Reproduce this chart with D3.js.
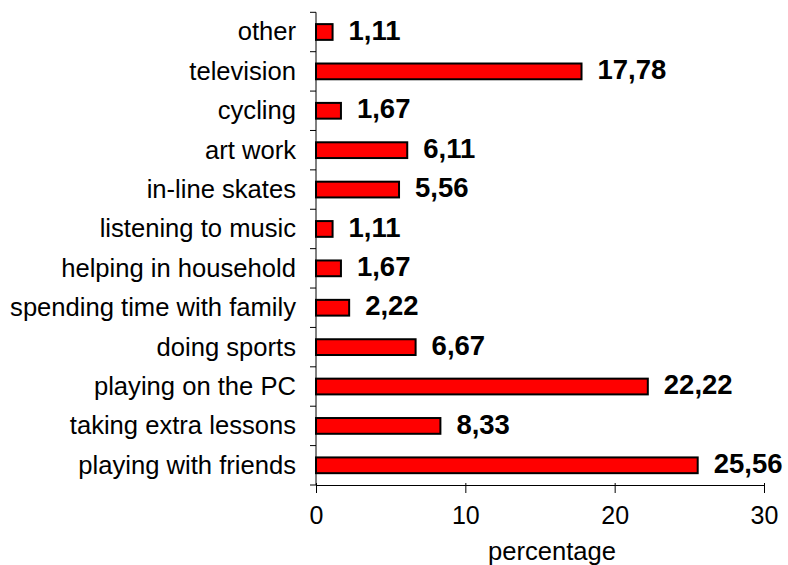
<!DOCTYPE html>
<meta charset="utf-8">
<html>
<head>
<script src="https://d3js.org/d3.v7.min.js"></script>
<style>
  body { margin: 0; background: #fff; }
  text { font-family: Arial, "Liberation Sans", sans-serif; }
</style>
</head>
<body>
<svg id="my_dataviz" width="788" height="565"></svg>
</body>
</html>
<script>

// categories from top to bottom
var activities = ["other", "television", "cycling", "art work", "in-line skates",
  "listening to music", "helping in household", "spending time with family",
  "doing sports", "playing on the PC", "taking extra lessons", "playing with friends"];
var percentages = [1.11, 17.78, 1.67, 6.11, 5.56, 1.11, 1.67, 2.22, 6.67, 22.22, 8.33, 25.56];
var valueLabels = ["1,11", "17,78", "1,67", "6,11", "5,56", "1,11", "1,67", "2,22", "6,67", "22,22", "8,33", "25,56"];
var xTicks = [0, 10, 20, 30];

var svg = d3.select("svg");
var plotLeft = 316, plotRight = 764, plotTop = 12.3, plotBottom = 485;

var x = d3.scaleLinear().domain([0, 30]).range([plotLeft, plotRight]);
var y = d3.scaleBand().domain(activities).range([plotTop, plotBottom]).paddingInner(0.6).paddingOuter(0.3);

// bars
svg.append("g")
  .selectAll("rect")
  .data(activities)
  .enter()
  .append("rect")
    .attr("x", x(0))
    .attr("y", function(d) { return y(d); })
    .attr("width", function(d, i) { return x(percentages[i]) - x(0); })
    .attr("height", y.bandwidth())
    .attr("fill", "#ff0000")
    .attr("stroke", "#000")
    .attr("stroke-width", 2);

// value labels
svg.append("g")
  .selectAll("text")
  .data(activities)
  .enter()
  .append("text")
    .attr("x", function(d, i) { return x(percentages[i]) + 16; })
    .attr("y", function(d) { return y(d) + y.bandwidth() / 2; })
    .attr("dy", "0.28em")
    .attr("font-size", "27.5px")
    .attr("font-weight", "bold")
    .text(function(d, i) { return valueLabels[i]; });

// y axis: ticks between categories
var step = y.step();
var yAxis = svg.append("g");
yAxis.append("line")
  .attr("x1", plotLeft).attr("x2", plotLeft)
  .attr("y1", plotTop).attr("y2", plotBottom)
  .attr("stroke", "#000");
yAxis.selectAll("line.tick")
  .data(d3.range(activities.length + 1))
  .enter()
  .append("line")
    .attr("class", "tick")
    .attr("x1", plotLeft - 6).attr("x2", plotLeft)
    .attr("y1", function(i) { return plotTop + i * step; })
    .attr("y2", function(i) { return plotTop + i * step; })
    .attr("stroke", "#000");
yAxis.selectAll("text")
  .data(activities)
  .enter()
  .append("text")
    .attr("x", plotLeft - 20)
    .attr("y", function(d) { return y(d) + y.bandwidth() / 2; })
    .attr("dy", "0.33em")
    .attr("text-anchor", "end")
    .attr("font-size", "25.6px")
    .text(function(d) { return d; });

// x axis
var xAxis = svg.append("g")
  .attr("transform", "translate(0," + plotBottom + ")")
  .call(d3.axisBottom(x).tickValues(xTicks).tickSize(8).tickSizeOuter(0).tickPadding(13));
xAxis.select(".domain").attr("stroke", "#000");
xAxis.selectAll(".tick line").attr("stroke", "#000").attr("y1", -2);
xAxis.selectAll(".tick text")
  .attr("font-size", "25px")
  .attr("font-family", "Arial, 'Liberation Sans', sans-serif")
  .attr("fill", "#000");

svg.append("text")
  .attr("x", (plotLeft + plotRight) / 2 + 12)
  .attr("y", 560)
  .attr("text-anchor", "middle")
  .attr("font-size", "25.6px")
  .text("percentage");

</script>
